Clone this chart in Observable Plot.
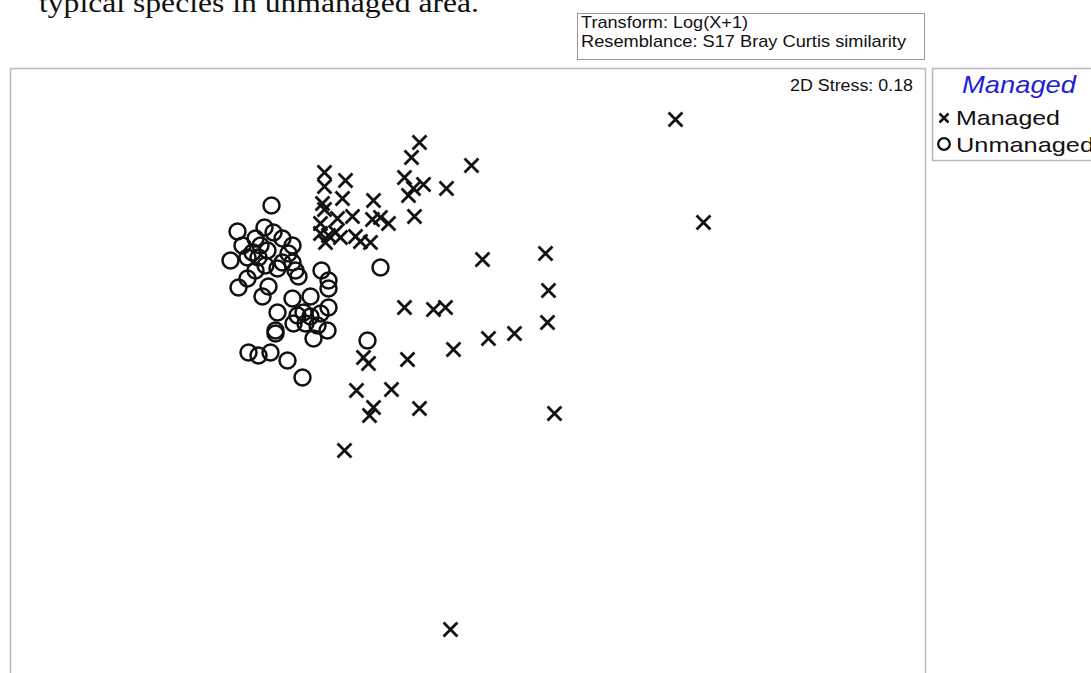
<!DOCTYPE html>
<html><head><meta charset="utf-8">
<script src="https://cdn.jsdelivr.net/npm/d3@7"></script>
<script src="https://cdn.jsdelivr.net/npm/@observablehq/plot@0.6"></script>
<style>
html,body{margin:0;padding:0;background:#fff;overflow:hidden;width:1091px;height:673px;}
#chart{position:absolute;left:0;top:0;}
#overlay{position:absolute;left:0;top:0;pointer-events:none;}
</style></head><body>
<div id="chart"></div>
<svg id="overlay" width="1091" height="673"></svg>
<script>
// Groups (factor "Managed")
const groups = ["Managed", "Unmanaged"];

// nMDS coordinates, Managed samples
const managedX = [0.900, 1.012, 0.000, -0.124, -0.156, 0.084, -0.504, -0.420, -0.504, -0.184,
  -0.108, -0.016, -0.148, -0.168, -0.432, -0.308, -0.512, -0.504, -0.452, -0.392,
  -0.312, -0.280, -0.248, -0.144, -0.520, -0.520, -0.488, -0.460, -0.440, -0.500,
  -0.380, -0.360, -0.320, 0.380, 0.128, 0.392, -0.184, -0.068, -0.020, 0.388,
  0.256, 0.152, 0.012, -0.172, -0.348, -0.328, -0.376, -0.236, -0.308, -0.324,
  -0.124, 0.416, -0.424];
const managedY = [1.004, 0.592, -1.036, 0.912, 0.852, 0.820, 0.792, 0.760, 0.736, 0.772,
  0.744, 0.728, 0.728, 0.700, 0.688, 0.680, 0.668, 0.644, 0.608, 0.616,
  0.604, 0.612, 0.588, 0.616, 0.588, 0.548, 0.540, 0.552, 0.532, 0.512,
  0.536, 0.516, 0.512, 0.468, 0.444, 0.320, 0.252, 0.244, 0.252, 0.192,
  0.148, 0.128, 0.084, 0.044, 0.052, 0.028, -0.080, -0.076, -0.148, -0.180,
  -0.152, -0.172, -0.320];

// nMDS coordinates, Unmanaged samples
const unmanagedX = [-0.716, -0.852, -0.744, -0.708, -0.780, -0.672, -0.832, -0.760, -0.732, -0.792,
  -0.632, -0.880, -0.812, -0.768, -0.648, -0.632, -0.672, -0.740, -0.780, -0.692,
  -0.620, -0.812, -0.608, -0.848, -0.728, -0.752, -0.516, -0.488, -0.488, -0.280,
  -0.632, -0.560, -0.488, -0.692, -0.612, -0.588, -0.560, -0.520, -0.628, -0.580,
  -0.532, -0.492, -0.700, -0.700, -0.548, -0.808, -0.768, -0.720, -0.652, -0.592,
  -0.332];
const unmanagedY = [0.660, 0.556, 0.572, 0.552, 0.528, 0.528, 0.500, 0.500, 0.480, 0.472,
  0.500, 0.440, 0.452, 0.452, 0.468, 0.432, 0.432, 0.420, 0.400, 0.408,
  0.400, 0.368, 0.376, 0.332, 0.336, 0.296, 0.400, 0.360, 0.328, 0.412,
  0.288, 0.296, 0.252, 0.232, 0.220, 0.232, 0.216, 0.228, 0.188, 0.188,
  0.180, 0.160, 0.160, 0.148, 0.128, 0.072, 0.060, 0.072, 0.040, -0.028,
  0.120];

const managed = managedX.map((x, i) => ({group: groups[0], mds1: x, mds2: managedY[i]}));
const unmanaged = unmanagedX.map((x, i) => ({group: groups[1], mds1: x, mds2: unmanagedY[i]}));

const plot = Plot.plot({
  width: 1091, height: 700,
  marginLeft: 10, marginRight: 166, marginTop: 68, marginBottom: 10,
  x: {domain: [-1.76, 1.9], axis: null},
  y: {domain: [-1.28, 1.208], axis: null},
  symbol: {domain: groups, range: ["times", "circle"]},
  style: {background: "transparent"},
  marks: [
    Plot.frame({stroke: "#b8b8b8", strokeWidth: 1.5}),
    Plot.dot(unmanaged, {x: "mds1", y: "mds2", symbol: "group", r: 8, stroke: "#111", strokeWidth: 2.5, fill: "none"}),
    Plot.dot(managed, {x: "mds1", y: "mds2", symbol: "group", r: 6.4, stroke: "#111", strokeWidth: 2.8, fill: "none"})
  ]
});
document.getElementById("chart").appendChild(plot);

// Annotations & legend
const svg = d3.select("#overlay");
const sans = "'Liberation Sans', Arial, sans-serif";
function txt(s, x, y, len, size, opts = {}) {
  return svg.append("text").attr("x", x).attr("y", y)
    .attr("font-family", opts.family || sans).attr("font-size", size)
    .attr("font-style", opts.italic ? "italic" : "normal")
    .attr("fill", opts.fill || "#111")
    .attr("textLength", len).attr("lengthAdjust", "spacingAndGlyphs")
    .text(s);
}
txt("typical species in unmanaged area.", 39, 12, 440, 28, {family: "'Liberation Serif', 'Times New Roman', serif"});

svg.append("rect").attr("x", 577.5).attr("y", 13.5).attr("width", 347).attr("height", 46)
  .attr("fill", "#fff").attr("stroke", "#999").attr("stroke-width", 1);
txt("Transform: Log(X+1)", 581, 28, 167, 17);
txt("Resemblance: S17 Bray Curtis similarity", 581, 47, 325, 17);

txt("2D Stress: 0.18", 790, 91, 123, 16);

svg.append("rect").attr("x", 932.5).attr("y", 68.5).attr("width", 200).attr("height", 92)
  .attr("fill", "none").attr("stroke", "#b8b8b8").attr("stroke-width", 1.5);
txt("Managed", 962, 93, 114, 24, {italic: true, fill: "#1f1fd6"});
const lx = 944, ly = 118, h = 4.5;
svg.append("path").attr("d", `M${lx-h},${ly-h}L${lx+h},${ly+h}M${lx-h},${ly+h}L${lx+h},${ly-h}`)
  .attr("stroke", "#111").attr("stroke-width", 2.5).attr("fill", "none");
svg.append("circle").attr("cx", 944).attr("cy", 144).attr("r", 5.8)
  .attr("stroke", "#111").attr("stroke-width", 2.3).attr("fill", "none");
txt("Managed", 956, 125, 104, 21);
txt("Unmanaged", 956, 152, 138, 21);
</script>
</body></html>
